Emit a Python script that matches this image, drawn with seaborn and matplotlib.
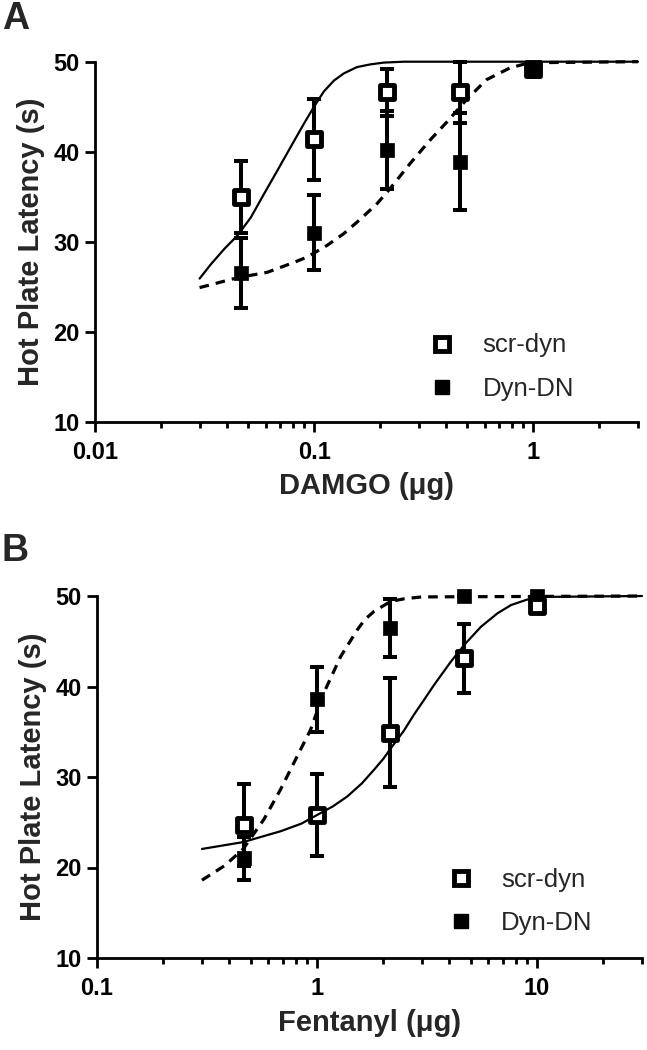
import matplotlib
matplotlib.use("Agg")
import matplotlib.pyplot as plt
import seaborn as sns
from matplotlib.lines import Line2D
from matplotlib.ticker import NullFormatter

# ---- data ----
# Panel A: DAMGO
damgo_dose = [0.0464, 0.1, 0.215, 0.464, 1.0]
damgo_scr = [35.0, 41.4, 46.6, 46.6, 49.2]
damgo_scr_err = [4.0, 4.5, 2.6, 3.4, 0.5]
damgo_dyn = [26.5, 31.0, 40.2, 38.9, 49.0]
damgo_dyn_err = [3.9, 4.2, 4.3, 5.4, 0.5]

# fitted curves
damgo_fit_scr_x = [0.03, 0.0338, 0.0389, 0.0447, 0.0514, 0.059, 0.0679, 0.078, 0.0897,
                   0.0998, 0.1107, 0.123, 0.1365, 0.1567, 0.1803, 0.2075, 0.256, 3.0]
damgo_fit_scr_y = [25.9, 27.5, 29.2, 30.7, 32.7, 35.3, 37.9, 40.5, 43.1,
                   45.0, 46.7, 47.9, 48.7, 49.4, 49.7, 49.9, 50.0, 50.0]
damgo_fit_dyn_x = [0.03, 0.0447, 0.0611, 0.0808, 0.093, 0.1146, 0.1365, 0.1624, 0.193,
                   0.215, 0.243, 0.274, 0.338, 0.403, 0.496, 0.611, 0.78, 0.897, 1.107, 3.0]
damgo_fit_dyn_y = [24.9, 26.0, 26.6, 27.7, 28.3, 29.6, 30.9, 32.5, 34.2,
                   35.5, 37.1, 38.7, 41.3, 43.3, 45.8, 48.0, 49.3, 49.7, 49.9, 50.0]

# Panel B: Fentanyl
fent_dose = [0.464, 1.0, 2.15, 4.64, 10.0]
fent_scr = [24.7, 25.8, 34.9, 43.1, 48.9]
fent_scr_err = [4.5, 4.5, 6.0, 3.8, 0.6]
fent_dyn = [21.0, 38.6, 46.5, 50.0, 50.0]
fent_dyn_err = [2.4, 3.6, 3.2, 0.0, 0.0]

fent_fit_scr_x = [0.3, 0.46, 0.682, 0.85, 1.0, 1.18, 1.373, 1.6, 1.816, 2.0, 2.2, 2.48,
                  2.76, 3.08, 3.41, 4.06, 4.67, 5.56, 6.62, 7.62, 9.0, 11.0, 30.0]
fent_fit_scr_y = [22.05, 22.8, 24.0, 24.85, 25.8, 26.75, 27.85, 29.3, 30.8, 32.0, 33.4, 35.1,
                  36.9, 38.6, 40.2, 42.75, 44.6, 46.6, 48.1, 49.0, 49.6, 49.9, 50.0]
fent_fit_dyn_x = [0.3, 0.38, 0.46, 0.573, 0.682, 0.813, 0.934, 1.074, 1.28, 1.523, 1.65,
                  1.816, 2.16, 2.5, 3.0, 30.0]
fent_fit_dyn_y = [18.6, 20.2, 22.0, 25.3, 28.6, 32.3, 35.2, 39.3, 43.3, 46.25, 47.4,
                  48.3, 49.4, 49.7, 49.9, 50.0]

legend_labels = ["scr-dyn", "Dyn-DN"]
y_ticks = [10, 20, 30, 40, 50]

sns.set_style("ticks")
plt.rcParams["font.family"] = ["Liberation Sans", "DejaVu Sans"]
plt.rcParams["font.weight"] = "bold"
plt.rcParams["axes.labelweight"] = "bold"

fig = plt.figure(figsize=(6.47, 10.5), dpi=100)
ax_a = fig.add_axes([95 / 647, 1 - 421.7 / 1050, 543 / 647, 360 / 1050])
ax_b = fig.add_axes([97 / 647, 1 - 958 / 1050, 545 / 647, 362 / 1050])


def draw_panel(ax, dose, scr, scr_err, dyn, dyn_err, fsx, fsy, fdx, fdy,
               xlim, xticks, xticklabels, xlabel, dyn_on_top, leg_anchor):
    z_scr, z_dyn = (3, 3.5) if dyn_on_top else (3.5, 3)
    ax.errorbar(dose, scr, yerr=scr_err, fmt="none", ecolor="black", elinewidth=2.9,
                capsize=5, capthick=2.9, zorder=2, clip_on=False)
    ax.errorbar(dose, dyn, yerr=dyn_err, fmt="none", ecolor="black", elinewidth=2.9,
                capsize=5, capthick=2.9, zorder=2, clip_on=False)
    sns.scatterplot(x=dose, y=scr, ax=ax, marker="s", s=90, color="white",
                    edgecolor="black", linewidth=3.5, zorder=z_scr, clip_on=False)
    sns.scatterplot(x=dose, y=dyn, ax=ax, marker="s", s=100, color="black",
                    edgecolor="black", linewidth=0.5, zorder=z_dyn, clip_on=False)
    sns.lineplot(x=fsx, y=fsy, ax=ax, color="black", linewidth=1.6, sort=False,
                 estimator=None, zorder=4, clip_on=False)
    sns.lineplot(x=fdx, y=fdy, ax=ax, color="black", linewidth=2.3, sort=False,
                 estimator=None, zorder=4, clip_on=False, linestyle=(0, (3, 2.2)))

    ax.set_xscale("log")
    ax.set_xlim(*xlim)
    ax.set_ylim(10, 50)
    ax.set_xticks(xticks, xticklabels)
    ax.xaxis.set_minor_formatter(NullFormatter())
    ax.set_yticks(y_ticks)
    ax.tick_params(axis="both", which="major", length=7, width=2, labelsize=17,
                   color="black", labelcolor="black")
    ax.tick_params(axis="x", which="major", pad=7)
    ax.tick_params(axis="y", which="major", pad=4)
    ax.tick_params(axis="x", which="minor", length=4.5, width=2, color="black")
    ax.set_xlabel(xlabel, fontsize=21, labelpad=6)
    ax.set_ylabel("Hot Plate Latency (s)", fontsize=21, labelpad=6)
    sns.despine(ax=ax)
    for sp in ["left", "bottom"]:
        ax.spines[sp].set_linewidth(2)
        ax.spines[sp].set_color("black")

    handles = [
        Line2D([], [], linestyle="none", marker="s", markersize=9.5, markerfacecolor="white",
               markeredgecolor="black", markeredgewidth=3.5),
        Line2D([], [], linestyle="none", marker="s", markersize=10, markerfacecolor="black",
               markeredgecolor="black"),
    ]
    ax.legend(handles, legend_labels, loc="upper left", bbox_to_anchor=leg_anchor,
              frameon=False, borderpad=0, borderaxespad=0, handlelength=1.0,
              handletextpad=1.07, labelspacing=0.75,
              prop={"weight": "normal", "size": 18.5})


draw_panel(ax_a, damgo_dose, damgo_scr, damgo_scr_err, damgo_dyn, damgo_dyn_err,
           damgo_fit_scr_x, damgo_fit_scr_y, damgo_fit_dyn_x, damgo_fit_dyn_y,
           (0.01, 3), [0.01, 0.1, 1], ["0.01", "0.1", "1"], "DAMGO (\u03bcg)",
           True, (0.616, 0.245))
draw_panel(ax_b, fent_dose, fent_scr, fent_scr_err, fent_dyn, fent_dyn_err,
           fent_fit_scr_x, fent_fit_scr_y, fent_fit_dyn_x, fent_fit_dyn_y,
           (0.1, 30), [0.1, 1, 10], ["0.1", "1", "10"], "Fentanyl (\u03bcg)",
           False, (0.644, 0.25))

fig.text(0.003, 0.999, "A", fontsize=27, fontweight="bold", va="top", ha="left")
fig.text(0.003, 0.492, "B", fontsize=27, fontweight="bold", va="top", ha="left")

fig.savefig("out.png", dpi=100, facecolor="white")
